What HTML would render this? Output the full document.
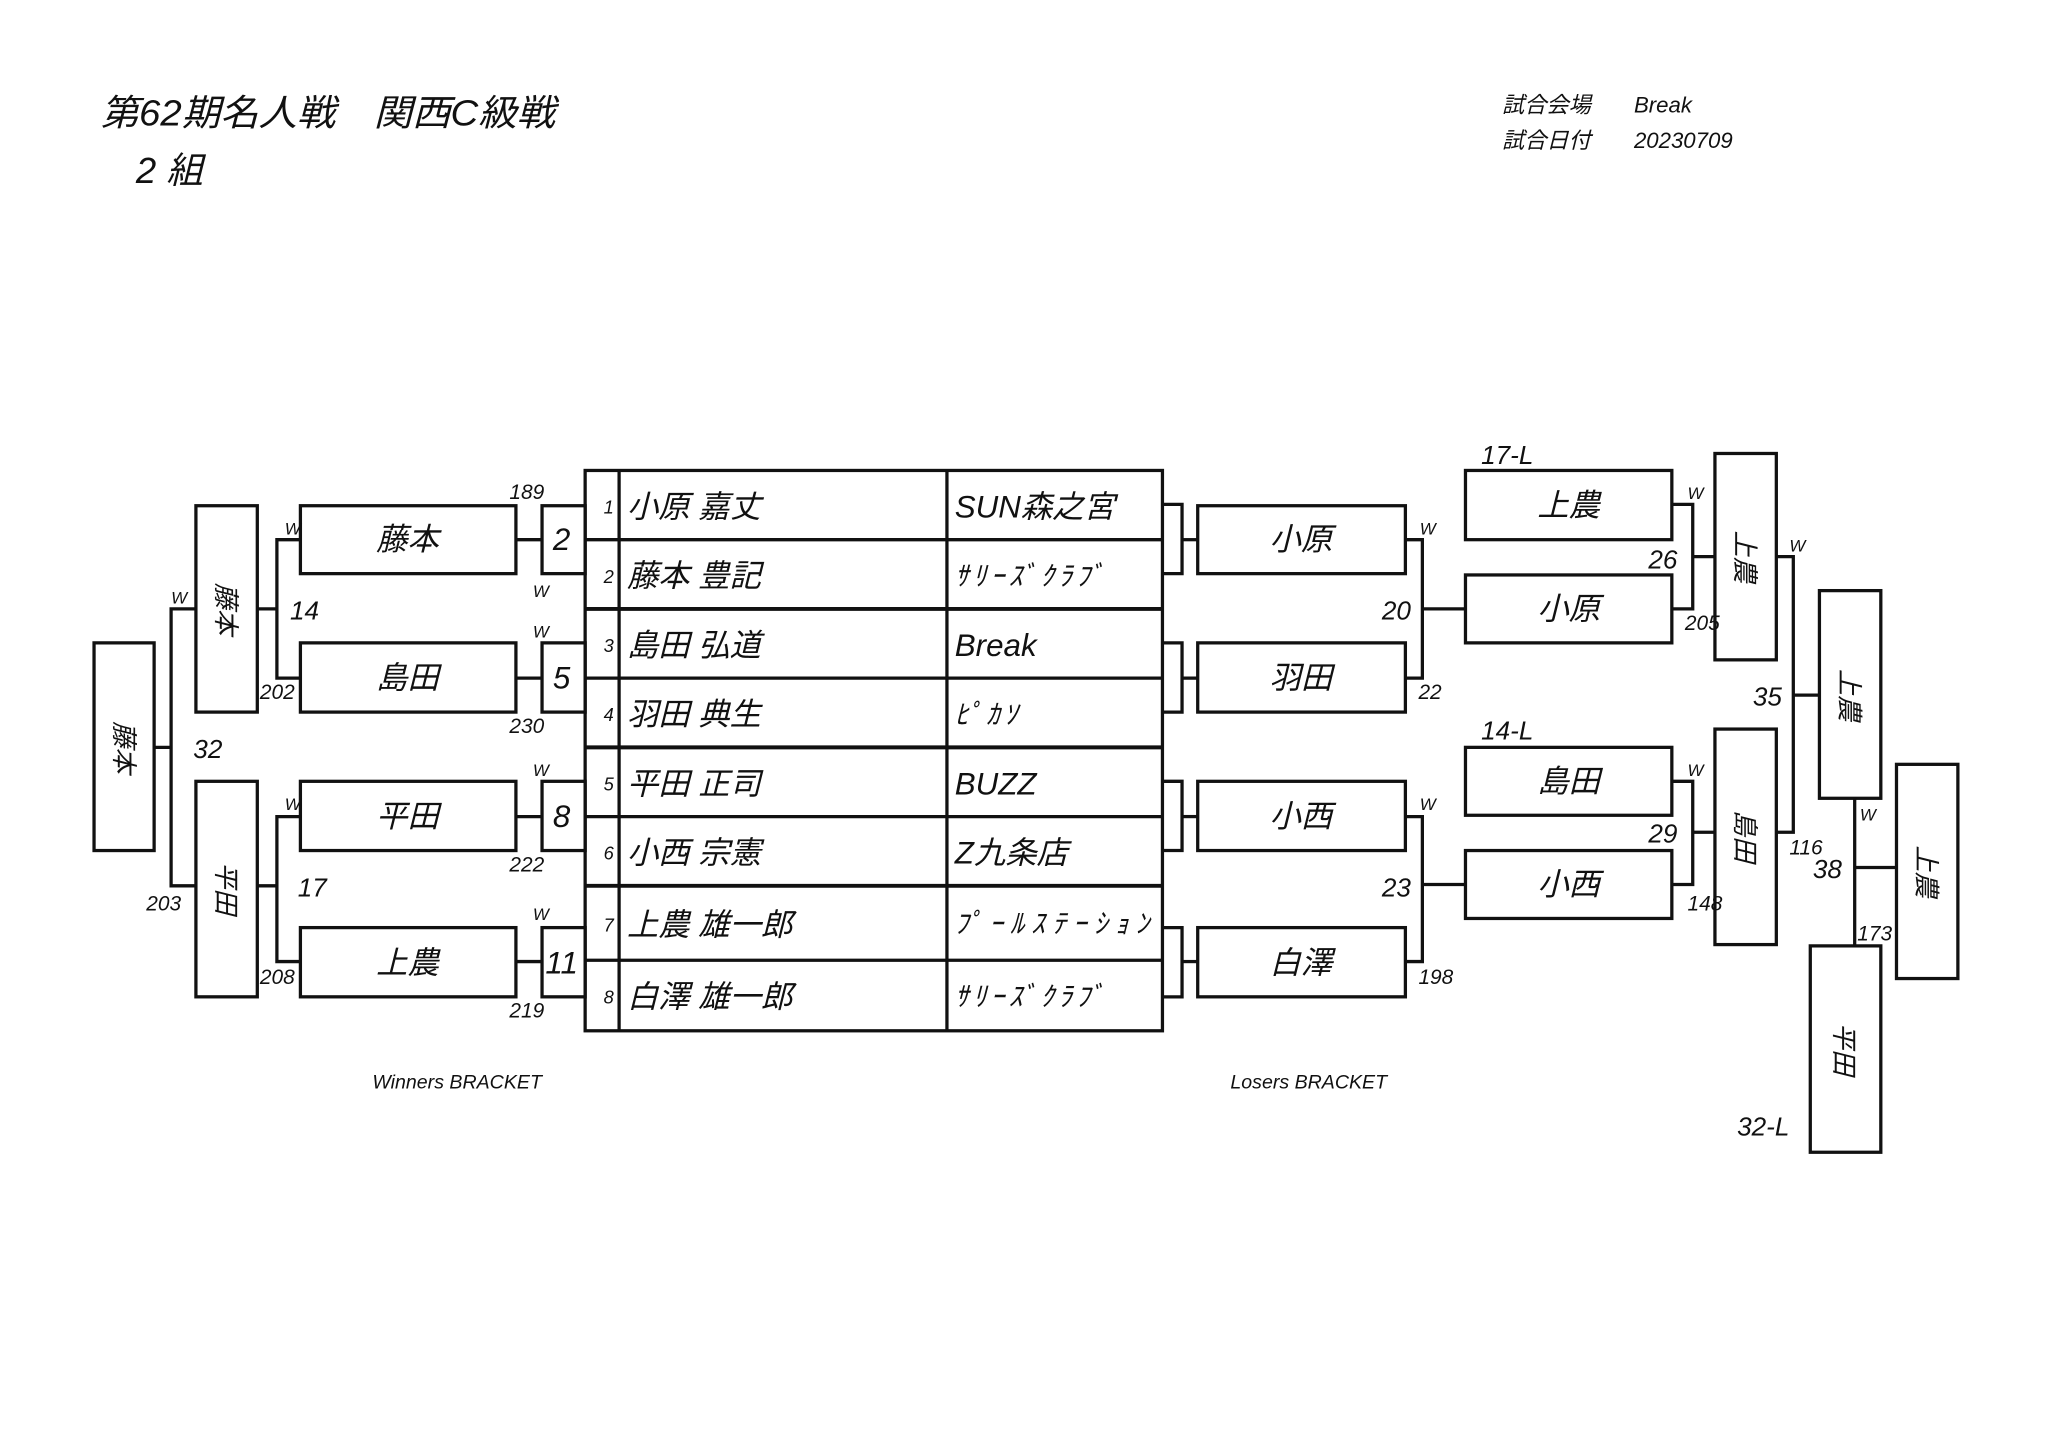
<!DOCTYPE html>
<html><head><meta charset="utf-8"><style>
html,body{margin:0;padding:0;background:#fff;}
svg{display:block;}
text{font-family:"Liberation Sans","Noto Sans CJK JP",sans-serif;font-style:italic;fill:#111;}
</style></head><body>
<svg width="2048" height="1449" viewBox="0 0 1568 1109" xmlns="http://www.w3.org/2000/svg">
<rect width="1568" height="1109" fill="#fff"/>
<g font-size="28">
<text x="77" y="96" textLength="348" lengthAdjust="spacingAndGlyphs">第62期名人戦　関西C級戦</text>
<text x="104" y="140">2 組</text>
</g>
<g font-size="17">
<text x="1150" y="86">試合会場</text><text x="1251" y="86">Break</text>
<text x="1150" y="113">試合日付</text><text x="1251" y="113">20230709</text>
</g>
<g fill="none" stroke="#111" stroke-width="2.5">
<rect x="448" y="360" width="442" height="429"/>
<line x1="474" y1="360" x2="474" y2="789"/>
<line x1="725" y1="360" x2="725" y2="789"/>
<line x1="448" y1="413" x2="890" y2="413"/>
<line x1="448" y1="466" x2="890" y2="466" stroke-width="3"/>
<line x1="448" y1="519" x2="890" y2="519"/>
<line x1="448" y1="572" x2="890" y2="572" stroke-width="3"/>
<line x1="448" y1="625" x2="890" y2="625"/>
<line x1="448" y1="678" x2="890" y2="678" stroke-width="3"/>
<line x1="448" y1="735" x2="890" y2="735"/>
<rect x="415" y="387" width="33" height="52"/>
<rect x="415" y="492" width="33" height="53"/>
<rect x="415" y="598" width="33" height="53"/>
<rect x="415" y="710" width="33" height="53"/>
<line x1="395" y1="413" x2="415" y2="413"/>
<line x1="395" y1="519" x2="415" y2="519"/>
<line x1="395" y1="625" x2="415" y2="625"/>
<line x1="395" y1="736" x2="415" y2="736"/>
<rect x="230" y="387" width="165" height="52"/>
<rect x="230" y="492" width="165" height="53"/>
<rect x="230" y="598" width="165" height="53"/>
<rect x="230" y="710" width="165" height="53"/>
<polyline points="230,413 212,413 212,519 230,519"/>
<line x1="212" y1="466" x2="197" y2="466"/>
<polyline points="230,625 212,625 212,736 230,736"/>
<line x1="212" y1="678" x2="197" y2="678"/>
<rect x="150" y="387" width="47" height="158"/>
<rect x="150" y="598" width="47" height="165"/>
<polyline points="150,466 131,466 131,678 150,678"/>
<line x1="131" y1="572" x2="118" y2="572"/>
<rect x="72" y="492" width="46" height="159"/>
<polyline points="890,386 905,386 905,439 890,439"/>
<polyline points="890,492 905,492 905,545 890,545"/>
<polyline points="890,598 905,598 905,651 890,651"/>
<polyline points="890,710 905,710 905,763 890,763"/>
<line x1="905" y1="413" x2="917" y2="413"/>
<line x1="905" y1="519" x2="917" y2="519"/>
<line x1="905" y1="625" x2="917" y2="625"/>
<line x1="905" y1="736" x2="917" y2="736"/>
<rect x="917" y="387" width="159" height="52"/>
<rect x="917" y="492" width="159" height="53"/>
<rect x="917" y="598" width="159" height="53"/>
<rect x="917" y="710" width="159" height="53"/>
<polyline points="1076,413 1089,413 1089,519 1076,519"/>
<line x1="1089" y1="466" x2="1122" y2="466"/>
<polyline points="1076,625 1089,625 1089,736 1076,736"/>
<line x1="1089" y1="677" x2="1122" y2="677"/>
<rect x="1122" y="360" width="158" height="53"/>
<rect x="1122" y="440" width="158" height="52"/>
<rect x="1122" y="572" width="158" height="52"/>
<rect x="1122" y="651" width="158" height="52"/>
<polyline points="1280,386 1296,386 1296,466 1280,466"/>
<line x1="1296" y1="426" x2="1313" y2="426"/>
<polyline points="1280,598 1296,598 1296,677 1280,677"/>
<line x1="1296" y1="637" x2="1313" y2="637"/>
<rect x="1313" y="347" width="47" height="158"/>
<rect x="1313" y="558" width="47" height="165"/>
<polyline points="1360,426 1373,426 1373,637 1360,637"/>
<line x1="1373" y1="532" x2="1393" y2="532"/>
<rect x="1393" y="452" width="47" height="159"/>
<line x1="1420" y1="611" x2="1420" y2="724"/>
<line x1="1420" y1="664" x2="1452" y2="664"/>
<rect x="1386" y="724" width="54" height="158"/>
<rect x="1452" y="585" width="47" height="164"/>
</g>
<g font-size="14" text-anchor="middle">
<text x="466" y="393">1</text><text x="466" y="446">2</text><text x="466" y="499">3</text><text x="466" y="552">4</text>
<text x="466" y="605">5</text><text x="466" y="658">6</text><text x="466" y="713">7</text><text x="466" y="768">8</text>
</g>
<g font-size="24">
<text x="480" y="396">小原 嘉丈</text><text x="480" y="449">藤本 豊記</text><text x="480" y="502">島田 弘道</text><text x="480" y="555">羽田 典生</text>
<text x="480" y="608">平田 正司</text><text x="480" y="661">小西 宗憲</text><text x="480" y="716">上農 雄一郎</text><text x="480" y="771">白澤 雄一郎</text>
<text x="731" y="396">SUN森之宮</text><text x="731" y="502">Break</text><text x="731" y="608">BUZZ</text><text x="731" y="661">Z九条店</text>
</g>
<g font-size="21">
<text x="731" y="448" textLength="114" lengthAdjust="spacing">ｻﾘｰｽﾞｸﾗﾌﾞ</text>
<text x="731" y="554" textLength="48" lengthAdjust="spacing">ﾋﾟｶｿ</text>
<text x="731" y="714" textLength="149" lengthAdjust="spacing">ﾌﾟｰﾙｽﾃｰｼｮﾝ</text>
<text x="731" y="770" textLength="114" lengthAdjust="spacing">ｻﾘｰｽﾞｸﾗﾌﾞ</text>
</g>
<g font-size="24" text-anchor="middle">
<text x="312" y="421">藤本</text><text x="312" y="527">島田</text><text x="312" y="633">平田</text><text x="312" y="745">上農</text>
<text x="996" y="421">小原</text><text x="996" y="527">羽田</text><text x="996" y="633">小西</text><text x="996" y="745">白澤</text>
<text x="1201" y="395">上農</text><text x="1201" y="474">小原</text><text x="1201" y="606">島田</text><text x="1201" y="685">小西</text>
<text x="430" y="421">2</text><text x="430" y="527">5</text><text x="430" y="633">8</text><text x="430" y="745">11</text>
</g>
<g font-size="20" text-anchor="middle">
<text transform="translate(166,466) rotate(90)">藤本</text>
<text transform="translate(166,680) rotate(90)">平田</text>
<text transform="translate(88,572) rotate(90)">藤本</text>
<text transform="translate(1329,426) rotate(90)">上農</text>
<text transform="translate(1329,640) rotate(90)">島田</text>
<text transform="translate(1409,532) rotate(90)">上農</text>
<text transform="translate(1468,667) rotate(90)">上農</text>
<text transform="translate(1405,803) rotate(90)">平田</text>
</g>
<g font-size="20">
<text x="222" y="474">14</text><text x="228" y="686">17</text><text x="148" y="580">32</text>
<text x="1058" y="474">20</text><text x="1058" y="686">23</text>
<text x="1262" y="435">26</text><text x="1262" y="645">29</text>
<text x="1342" y="540">35</text><text x="1388" y="672">38</text>
<text x="1134" y="355">17-L</text><text x="1134" y="566">14-L</text><text x="1330" y="869">32-L</text>
</g>
<g font-size="16">
<text x="390" y="382">189</text><text x="199" y="535">202</text><text x="390" y="561">230</text>
<text x="390" y="667">222</text><text x="199" y="753">208</text><text x="390" y="779">219</text>
<text x="112" y="697">203</text>
<text x="1086" y="535">22</text><text x="1086" y="753">198</text>
<text x="1290" y="482">205</text><text x="1292" y="697">148</text>
<text x="1370" y="654">116</text><text x="1422" y="720">173</text>
</g>
<g font-size="13">
<text x="218" y="409">W</text><text x="408" y="457">W</text><text x="408" y="488">W</text><text x="408" y="594">W</text>
<text x="218" y="620">W</text><text x="408" y="704">W</text><text x="131" y="462">W</text>
<text x="1087" y="409">W</text><text x="1087" y="620">W</text>
<text x="1292" y="382">W</text><text x="1292" y="594">W</text><text x="1370" y="422">W</text><text x="1424" y="628">W</text>
</g>
<g font-size="15" text-anchor="middle">
<text x="350" y="833">Winners BRACKET</text>
<text x="1002" y="833">Losers BRACKET</text>
</g>
</svg>
</body></html>
